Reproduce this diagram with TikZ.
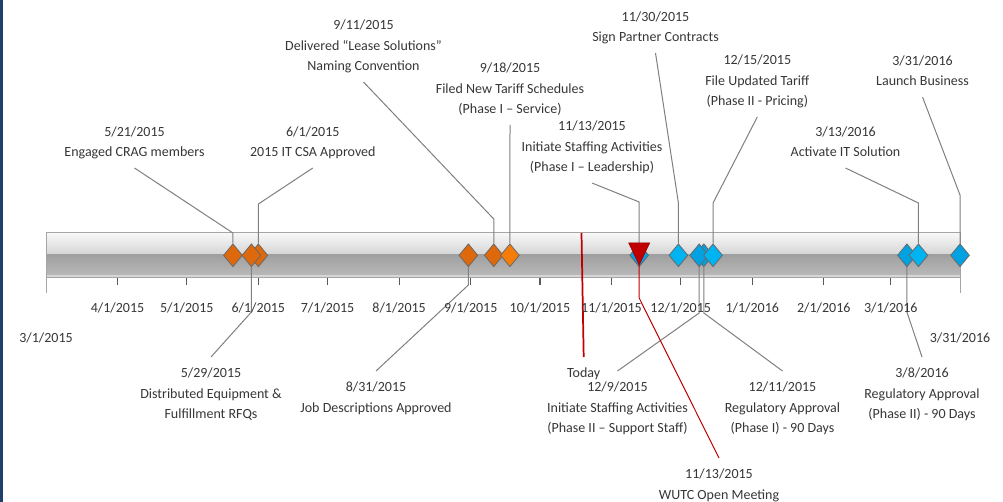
\documentclass[tikz,border=0pt]{standalone}
\usepackage{fontspec}
\setmainfont{Carlito}
\usetikzlibrary{shapes.geometric}
\pgfdeclarelayer{bglayer}
\pgfdeclarelayer{leaderlayer}
\pgfsetlayers{bglayer,leaderlayer,main}
\newcommand{\mylines}[1]{\begin{tabular}{@{}c@{}}#1\end{tabular}}
\definecolor{txt}{RGB}{55,55,55}
\definecolor{lead}{RGB}{128,128,128}
\definecolor{orgA}{RGB}{222,104,12}
\definecolor{orgB}{RGB}{246,124,10}
\definecolor{bluA}{RGB}{0,180,242}
\definecolor{bluB}{RGB}{0,162,226}
\definecolor{redM}{RGB}{192,0,0}
\definecolor{redD}{RGB}{150,0,0}
\definecolor{navy}{RGB}{31,64,110}
\definecolor{barT}{RGB}{248,248,248}
\definecolor{barM}{RGB}{212,212,212}
\definecolor{barL1}{RGB}{160,160,160}
\definecolor{barL2}{RGB}{184,184,184}
\definecolor{barE}{RGB}{214,214,214}
\definecolor{barO}{RGB}{165,165,165}
\definecolor{tickc}{RGB}{90,90,90}
\definecolor{dmo}{RGB}{105,105,105}
\begin{document}
\begin{tikzpicture}[x=0.75pt,y=-0.75pt,
  font=\fontsize{10.5}{15.4}\selectfont, text=txt,
  toplab/.style={anchor=south, inner xsep=0pt, inner ysep=3.63pt},
  botlab/.style={anchor=north, inner xsep=0pt, inner ysep=4.6pt},
  ticklab/.style={anchor=base, inner sep=0pt},
  leader/.style={draw=lead, line width=0.75pt},
  redleader/.style={draw=redM, line width=0.75pt},
  todayln/.style={draw=redM, line width=1.3pt},
  tickmark/.style={draw=tickc, line width=0.9pt},
  barend/.style={draw=barO, line width=0.75pt},
  milestone/.style={diamond, draw=dmo, line width=0.6pt, inner sep=0pt,
    minimum width=14.25pt, minimum height=17.25pt},
  trinode/.style={rectangle, inner sep=0pt, outer sep=0pt,
    minimum width=15.75pt, minimum height=16.5pt}]
\useasboundingbox (0,0) rectangle (1003,502);

\begin{pgfonlayer}{bglayer}
\fill[white] (0,0) rectangle (1003,502);
\fill[navy] (0,0) rectangle (2.5,502);
% bar
\shade[top color=barT, bottom color=barM] (46,233) rectangle (960,255);
\shade[top color=barL1, bottom color=barL2] (46,255) rectangle (960,275);
\fill[barE] (46,275) rectangle (960,278);
\draw[barO, line width=0.75pt] (46,233) rectangle (960,278);
\draw[barend] (46,233) -- (46,293);
\draw[barend] (960,233) -- (960,293);
\foreach \t in {117.55,186.79,258.34,327.59,399.14,470.69,539.93,611.48,680.72,752.27,823.82,890.76}
  \draw[tickmark] (\t,278) -- (\t,285);
\end{pgfonlayer}

% axis labels
\node[ticklab] (m0301) at (46,343) {3/1/2015};
\node[ticklab] (m0401) at (117.55,313) {4/1/2015};
\node[ticklab] (m0501) at (186.79,313) {5/1/2015};
\node[ticklab] (m0601) at (258.34,313) {6/1/2015};
\node[ticklab] (m0701) at (327.59,313) {7/1/2015};
\node[ticklab] (m0801) at (399.14,313) {8/1/2015};
\node[ticklab] (m0901) at (470.69,313) {9/1/2015};
\node[ticklab] (m1001) at (539.93,313) {10/1/2015};
\node[ticklab] (m1101) at (611.48,313) {11/1/2015};
\node[ticklab] (m1201) at (680.72,313) {12/1/2015};
\node[ticklab] (m0101) at (752.27,313) {1/1/2016};
\node[ticklab] (m0201) at (823.82,313) {2/1/2016};
\node[ticklab] (m0316) at (890.76,313) {3/1/2016};
\node[ticklab] (m0331) at (960,343) {3/31/2016};

% kink coordinates
\coordinate (k0521) at (232.95,233);
\coordinate (k0601) at (258.34,204);
\coordinate (k0529) at (251.42,312);
\coordinate (k0831) at (468.38,285);
\coordinate (k0911) at (493.77,219);
\coordinate (k1113a) at (639.18,202);
\coordinate (k1113b) at (639.18,298);
\coordinate (k1130) at (678.41,203);
\coordinate (k1209) at (699.19,313);
\coordinate (k1211) at (703.80,313);
\coordinate (k1215) at (713.04,203);
\coordinate (k0308) at (906.91,312);
\coordinate (k0313) at (918.45,203);
\coordinate (k0331) at (960,195);
\coordinate (todaytop) at (581.5,233);

% labels above
\node[toplab] (L0521) at (134.5,168) {\mylines{5/21/2015\\Engaged CRAG members}};
\node[toplab] (L0601) at (312.8,168) {\mylines{6/1/2015\\2015 IT CSA Approved}};
\node[toplab] (L0911) at (363.5,82) {\mylines{9/11/2015\\Delivered “Lease Solutions”\\Naming Convention}};
\node[toplab] (L0918) at (510,125) {\mylines{9/18/2015\\Filed New Tariff Schedules\\(Phase I – Service)}};
\node[toplab] (L1113a) at (592,183) {\mylines{11/13/2015\\Initiate Staffing Activities\\(Phase I – Leadership)}};
\node[toplab] (L1130) at (655.5,53) {\mylines{11/30/2015\\Sign Partner Contracts}};
\node[toplab] (L1215) at (757.3,117) {\mylines{12/15/2015\\File Updated Tariff\\(Phase II - Pricing)}};
\node[toplab] (L0313) at (845.5,168) {\mylines{3/13/2016\\Activate IT Solution}};
\node[toplab] (L0331) at (922.5,97) {\mylines{3/31/2016\\Launch Business}};

% labels below
\node[botlab] (L0529) at (211,357) {\mylines{5/29/2015\\Distributed Equipment \&\\Fulfillment RFQs}};
\node[botlab] (L0831) at (376,371) {\mylines{8/31/2015\\Job Descriptions Approved}};
\node[botlab] (L1209) at (617.5,371) {\mylines{12/9/2015\\Initiate Staffing Activities\\(Phase II – Support Staff)}};
\node[botlab] (L1211) at (782.5,371) {\mylines{12/11/2015\\Regulatory Approval\\(Phase I) - 90 Days}};
\node[botlab] (L0308) at (922,357) {\mylines{3/8/2016\\Regulatory Approval\\(Phase II) - 90 Days}};
\node[botlab] (L1113b) at (719,458) {\mylines{11/13/2015\\WUTC Open Meeting}};
\node[botlab] (Ltoday) at (583.7,357) {\mylines{Today}};

% milestones (drawing order gives overlaps)
\node[milestone, fill=orgA] (D0521) at (232.95,255.3) {};
\node[milestone, fill=orgA] (D0601) at (258.34,255.3) {};
\node[milestone, fill=orgA] (D0529) at (251.42,255.3) {};
\node[milestone, fill=orgA] (D0831) at (468.38,255.3) {};
\node[milestone, fill=orgA] (D0911) at (493.77,255.3) {};
\node[milestone, fill=orgB] (D0918) at (509.92,255.3) {};
\node[milestone, fill=bluB] (D1113) at (639.18,255.3) {};
\node[milestone, fill=bluA] (D1130) at (678.41,255.3) {};
\node[milestone, fill=bluB] (D1211) at (703.80,255.3) {};
\node[milestone, fill=bluB] (D1209) at (699.19,255.3) {};
\node[milestone, fill=bluA] (D1215) at (713.04,255.3) {};
\node[milestone, fill=bluB] (D0308) at (906.91,255.3) {};
\node[milestone, fill=bluA] (D0313) at (918.45,255.3) {};
\node[milestone, fill=bluB] (D0331) at (960,255.3) {};

% WUTC marker
\node[trinode] (T1113) at (639.18,254) {};
\filldraw[fill=redM, draw=redD, line width=0.4pt] (T1113.north west) -- (T1113.north east) -- (T1113.south) -- cycle;

% connectors
\begin{pgfonlayer}{leaderlayer}
\draw[todayln] (todaytop) -- (Ltoday.north);
\draw[leader] (L0521.south) -- (k0521) -- (D0521.north);
\draw[leader] (L0601.south) -- (k0601) -- (D0601.north);
\draw[leader] (D0529.south) -- (k0529) -- (L0529.north);
\draw[leader] (D0831.south) -- (k0831) -- (L0831.north);
\draw[leader] (L0911.south) -- (k0911) -- (D0911.north);
\draw[leader] (L0918.south) -- (D0918.north);
\draw[leader] (L1113a.south) -- (k1113a) -- (D1113.north);
\draw[leader] (L1130.south) -- (k1130) -- (D1130.north);
\draw[leader] (D1209.south) -- (k1209) -- (L1209.north);
\draw[leader] (D1211.south) -- (k1211) -- (L1211.north);
\draw[leader] (L1215.south) -- (k1215) -- (D1215.north);
\draw[leader] (D0308.south) -- (k0308) -- (L0308.north);
\draw[leader] (L0313.south) -- (k0313) -- (D0313.north);
\draw[leader] (L0331.south) -- (k0331) -- (D0331.north);
\end{pgfonlayer}
\draw[redleader] (T1113.south) -- (k1113b) -- (L1113b.north);
\end{tikzpicture}
\end{document}
